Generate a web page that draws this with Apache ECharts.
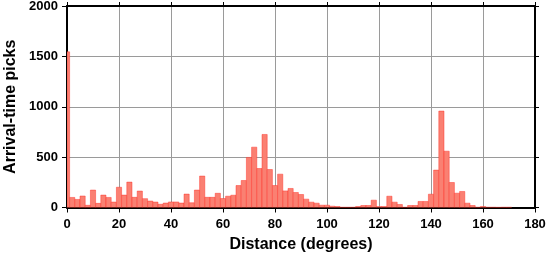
<!DOCTYPE html>
<html>
<head>
<meta charset="utf-8">
<script src="https://cdn.jsdelivr.net/npm/echarts@6/dist/echarts.min.js"></script>
<style>
html,body{margin:0;padding:0;background:#fff;}
#chart{width:547px;height:258px;}
</style>
</head>
<body>
<div id="chart"></div>
<script>
// Bin centres (degrees), bin width 2 degrees
var distances = [0,2,4,6,8,10,12,14,16,18,20,22,24,26,28,30,32,34,36,38,40,42,44,46,48,50,52,54,56,58,60,62,64,66,68,70,72,74,76,78,80,82,84,86,88,90,92,94,96,98,100,102,104,106,108,110,112,114,116,118,120,122,124,126,128,130,132,134,136,138,140,142,144,146,148,150,152,154,156,158,160,162,164,166,168,170];
var picks = [1545,100,80,114,22,173,41,123,100,54,201,123,252,101,163,88,64,54,32,44,55,55,44,133,47,173,312,101,101,141,89,112,122,218,268,497,599,387,725,377,218,331,165,189,149,129,83,53,43,23,23,13,10,3,3,3,10,20,20,73,10,10,112,53,30,3,20,20,60,60,132,371,957,559,248,142,159,43,20,3,10,3,3,2,3,3];
var binWidth = 2;
var xTicks = [0,20,40,60,80,100,120,140,160,180];
var yTicks = [0,500,1000,1500,2000];

var data = distances.map(function(d,i){ return [d, picks[i]]; });

var chart = echarts.init(document.getElementById('chart'), null, {renderer:'canvas'});
var labelFont = {fontFamily:'Liberation Sans', fontWeight:'bold', fontSize:13, color:'#000'};
var nameFont = {fontFamily:'Liberation Sans', fontWeight:'bold', fontSize:16, color:'#000'};
var axisLineStyle = {color:'#000', width:2};

chart.setOption({
  animation:false,
  backgroundColor:'#fff',
  grid:{left:67, right:12, top:6, bottom:50.5, containLabel:false, outerBoundsMode:'none'},
  xAxis:[{
    type:'value', min:xTicks[0], max:xTicks[xTicks.length-1], interval:20, position:'bottom',
    axisLine:{show:true, onZero:false, lineStyle:axisLineStyle},
    axisTick:{show:true, length:5, inside:false, lineStyle:{color:'#000', width:1}},
    axisLabel:Object.assign({margin:10, formatter:function(v){return String(v);}}, labelFont),
    splitLine:{show:true, lineStyle:{color:'#9a9a9a', width:1}},
    name:'Distance (degrees)', nameLocation:'middle', nameGap:29,
    nameTextStyle:nameFont
  },{
    type:'value', min:xTicks[0], max:xTicks[xTicks.length-1], interval:20, position:'top',
    axisLine:{show:true, onZero:false, lineStyle:axisLineStyle},
    axisTick:{show:true, length:4, inside:false, lineStyle:{color:'#000', width:1}},
    axisLabel:{show:false}, splitLine:{show:false}
  }],
  yAxis:[{
    type:'value', min:yTicks[0], max:yTicks[yTicks.length-1], interval:500, position:'left',
    axisLine:{show:true, onZero:false, lineStyle:axisLineStyle},
    axisTick:{show:true, length:5, inside:false, lineStyle:{color:'#000', width:1}},
    axisLabel:Object.assign({margin:9, formatter:function(v){return String(v);}}, labelFont),
    splitLine:{show:true, lineStyle:{color:'#9a9a9a', width:1}},
    name:'Arrival-time picks', nameLocation:'middle', nameGap:46,
    nameTextStyle:nameFont
  },{
    type:'value', min:yTicks[0], max:yTicks[yTicks.length-1], interval:500, position:'right',
    axisLine:{show:true, onZero:false, lineStyle:axisLineStyle},
    axisTick:{show:true, length:4, inside:false, lineStyle:{color:'#000', width:1}},
    axisLabel:{show:false}, splitLine:{show:false}
  }],
  series:[{
    type:'custom',
    xAxisIndex:0, yAxisIndex:0,
    data:data,
    clip:true,
    z:1,
    renderItem:function(params, api){
      var x = api.value(0), v = api.value(1);
      var p0 = api.coord([x - binWidth/2, v]);
      var p1 = api.coord([x + binWidth/2, 0]);
      var rect = echarts.graphic.clipRectByRect(
        {x:p0[0], y:p0[1], width:p1[0]-p0[0], height:p1[1]-p0[1]},
        {x:params.coordSys.x, y:params.coordSys.y, width:params.coordSys.width, height:params.coordSys.height}
      );
      if(!rect) return null;
      return {type:'rect', shape:rect,
        style:{fill:'#fa8072', stroke:'rgba(255,45,35,0.75)', lineWidth:0.6}};
    }
  }]
});
</script>
</body>
</html>
